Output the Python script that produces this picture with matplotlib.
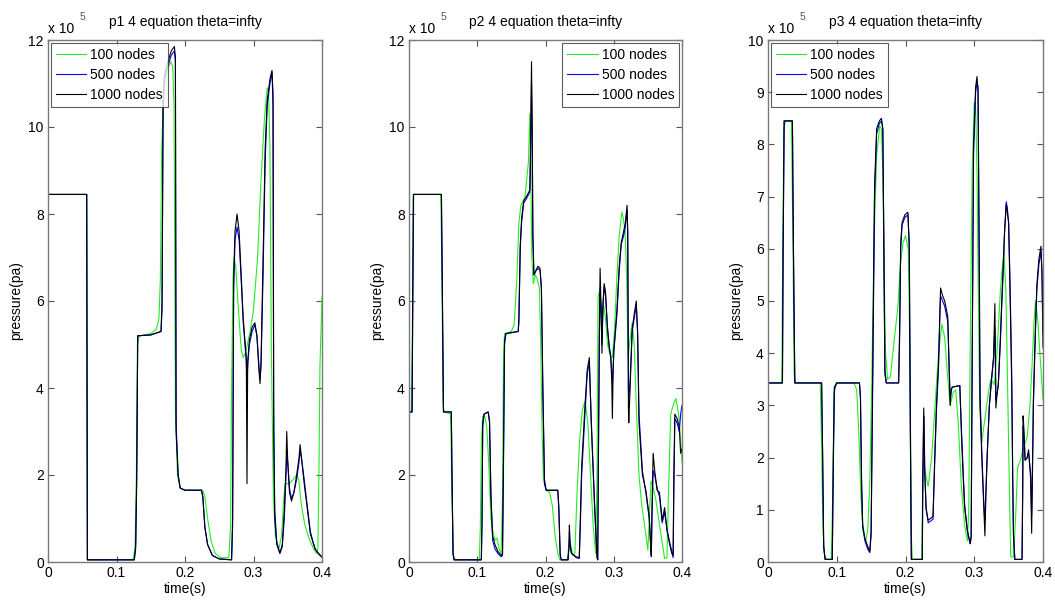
import matplotlib
matplotlib.use("Agg")
import matplotlib.pyplot as plt

plt.rcParams['font.family'] = ['Liberation Sans', 'DejaVu Sans']

# ---------------- data (pressure in units of 1e5 Pa) ----------------
titles = ["p1 4 equation theta=infty", "p2 4 equation theta=infty", "p3 4 equation theta=infty"]
series_labels = ["100 nodes", "500 nodes", "1000 nodes"]
ylims = [12, 12, 10]
yticks_list = [[0, 2, 4, 6, 8, 10, 12], [0, 2, 4, 6, 8, 10, 12], list(range(0, 11))]
xticks = [0, 0.1, 0.2, 0.3, 0.4]
xticklabels = ["0", "0.1", "0.2", "0.3", "0.4"]

# ---- panel 1 ----
p1_t = [0, 0.0565, 0.0575, 0.126, 0.128, 0.1295, 0.131, 0.150, 0.165, 0.1665, 0.168, 0.170, 0.175, 0.180,
        0.1845, 0.186, 0.187, 0.190, 0.193, 0.200, 0.224, 0.226, 0.229, 0.233, 0.240, 0.250, 0.268, 0.2695,
        0.271, 0.273, 0.276, 0.279, 0.282, 0.285, 0.288, 0.2895, 0.2905, 0.2915, 0.294, 0.298, 0.302, 0.305,
        0.308, 0.3095, 0.311, 0.314, 0.317, 0.320, 0.324, 0.327, 0.3285, 0.3295, 0.331, 0.334, 0.3385, 0.342,
        0.345, 0.3475, 0.3485, 0.350, 0.3525, 0.3555, 0.359, 0.363, 0.3665, 0.368, 0.370, 0.374, 0.378, 0.383,
        0.387, 0.390, 0.395, 0.400]
p1_black = [8.45, 8.45, 0.05, 0.05, 0.4, 2.0, 5.2, 5.22, 5.3, 6.0, 10.6, 11.2, 11.5, 11.75,
            11.85, 11.6, 3.0, 2.0, 1.7, 1.65, 1.65, 1.5, 0.8, 0.4, 0.15, 0.07, 0.05, 1.0,
            6.5, 7.6, 8.0, 7.6, 6.6, 5.6, 5.0, 4.7, 1.8, 4.6, 5.1, 5.4, 5.5, 5.2,
            4.4, 4.1, 4.6, 7.0, 9.5, 10.6, 11.1, 11.3, 10.5, 3.0, 1.0, 0.4, 0.2, 0.4,
            1.2, 2.2, 3.0, 2.3, 1.6, 1.4, 1.6, 2.0, 2.4, 2.7, 2.4, 1.8, 1.3, 0.65,
            0.45, 0.3, 0.18, 0.11]
p1_blue = [8.45, 8.45, 0.05, 0.05, 0.3, 1.8, 5.2, 5.22, 5.3, 5.8, 10.4, 11.1, 11.4, 11.65,
           11.75, 11.5, 3.2, 2.0, 1.7, 1.65, 1.65, 1.5, 0.8, 0.4, 0.15, 0.07, 0.05, 0.8,
           6.2, 7.4, 7.7, 7.4, 6.5, 5.5, 4.9, 4.6, 4.1, 4.5, 5.0, 5.3, 5.45, 5.2,
           4.5, 4.2, 4.5, 6.6, 9.2, 10.5, 11.0, 11.25, 10.8, 3.5, 1.2, 0.45, 0.2, 0.35,
           1.0, 2.0, 2.5, 2.3, 1.7, 1.45, 1.6, 1.9, 2.3, 2.55, 2.4, 1.9, 1.35, 0.7,
           0.45, 0.3, 0.2, 0.12]
p1_green_t = [0, 0.0565, 0.0575, 0.124, 0.127, 0.129, 0.1305, 0.133, 0.150, 0.158, 0.162, 0.164, 0.166,
              0.169, 0.174, 0.179, 0.182, 0.184, 0.186, 0.189, 0.193, 0.200, 0.226, 0.229, 0.233, 0.238,
              0.244, 0.252, 0.264, 0.2665, 0.268, 0.270, 0.2715, 0.274, 0.278, 0.282, 0.285, 0.288, 0.291,
              0.295, 0.300, 0.306, 0.311, 0.316, 0.320, 0.322, 0.324, 0.326, 0.329, 0.332, 0.337, 0.341,
              0.344, 0.346, 0.352, 0.358, 0.363, 0.366, 0.370, 0.375, 0.382, 0.388, 0.392, 0.394, 0.3955,
              0.397, 0.400]
p1_green = [8.45, 8.45, 0.05, 0.05, 0.3, 2.0, 5.0, 5.2, 5.25, 5.35, 5.6, 6.5, 9.5,
            10.8, 11.3, 11.5, 11.4, 10.5, 3.5, 2.0, 1.7, 1.65, 1.65, 1.5, 1.0, 0.5,
            0.2, 0.1, 0.1, 0.8, 4.0, 6.5, 7.0, 6.8, 5.8, 4.9, 4.7, 4.8, 5.0,
            5.3, 5.8, 7.0, 8.8, 10.2, 10.9, 10.8, 9.5, 5.0, 1.5, 0.6, 0.3, 0.6,
            1.4, 1.8, 1.8, 1.9, 2.0, 1.9, 1.3, 0.85, 0.5, 0.3, 0.2, 0.3, 2.0,
            4.5, 6.1]

# ---- panel 2 ----
p2_t = [0, 0.0045, 0.0055, 0.0065, 0.0475, 0.049, 0.0505, 0.062, 0.063, 0.0645, 0.066, 0.106, 0.107, 0.108,
        0.110, 0.116, 0.118, 0.120, 0.1225, 0.126, 0.130, 0.135, 0.137, 0.1385, 0.140, 0.142, 0.160, 0.161,
        0.163, 0.165, 0.168, 0.172, 0.177, 0.178, 0.1795, 0.1805, 0.1815, 0.183, 0.186, 0.189, 0.192, 0.194,
        0.196, 0.1985, 0.201, 0.218, 0.2195, 0.2215, 0.223, 0.233, 0.2345, 0.235, 0.236, 0.238, 0.245, 0.2495,
        0.251, 0.253, 0.2575, 0.261, 0.2642, 0.267, 0.272, 0.2755, 0.2765, 0.2775, 0.279, 0.280, 0.2815,
        0.2827, 0.284, 0.286, 0.288, 0.2907, 0.293, 0.2956, 0.297, 0.298, 0.299, 0.300, 0.3047, 0.308,
        0.311, 0.3145, 0.317, 0.3195, 0.3205, 0.3215, 0.322, 0.324, 0.327, 0.330, 0.333, 0.335, 0.337,
        0.342, 0.347, 0.352, 0.354, 0.355, 0.356, 0.3577, 0.360, 0.3635, 0.367, 0.371, 0.3745, 0.378,
        0.382, 0.385, 0.387, 0.388, 0.3895, 0.3928, 0.396, 0.398, 0.400]
p2_black = [3.45, 3.45, 6.0, 8.45, 8.45, 6.0, 3.45, 3.45, 2.0, 0.2, 0.05, 0.05, 1.0, 3.2,
            3.4, 3.45, 3.2, 1.5, 0.6, 0.4, 0.25, 0.15, 0.2, 2.5, 5.1, 5.25, 5.3, 5.6,
            7.3, 7.9, 8.3, 8.4, 8.55, 9.5, 11.5, 10.0, 7.5, 6.6, 6.7, 6.8, 6.75, 6.3,
            4.0, 1.8, 1.65, 1.65, 1.2, 0.15, 0.05, 0.05, 0.4, 0.85, 0.4, 0.2, 0.12, 0.1,
            1.0, 2.2, 3.5, 4.4, 4.7, 3.2, 1.25, 0.1, 0.05, 2.5, 5.5, 6.75, 5.8,
            4.8, 5.8, 6.4, 6.2, 5.4, 5.0, 4.7, 4.2, 3.3, 4.3, 4.85, 5.8, 6.8,
            7.35, 7.6, 7.8, 8.2, 7.5, 3.5, 3.2, 4.0, 5.35, 5.7, 6.0, 5.2, 3.2,
            2.0, 1.65, 1.05, 0.4, 0.15, 1.2, 2.5, 2.1, 1.65, 1.6, 0.95, 1.25, 0.72,
            0.4, 0.2, 0.15, 2.0, 3.4, 3.3, 3.1, 2.5, 2.6]
p2_blue = [3.45, 3.45, 6.0, 8.45, 8.45, 6.0, 3.45, 3.45, 2.0, 0.2, 0.05, 0.05, 0.9, 3.1,
           3.4, 3.45, 3.25, 1.6, 0.5, 0.3, 0.2, 0.12, 0.15, 2.3, 5.0, 5.25, 5.3, 5.5,
           7.2, 7.8, 8.25, 8.35, 8.5, 9.2, 11.0, 9.8, 7.5, 6.6, 6.7, 6.75, 6.7, 6.3,
           4.2, 1.9, 1.65, 1.65, 1.3, 0.2, 0.05, 0.05, 0.35, 0.7, 0.4, 0.2, 0.1, 0.08,
           0.8, 2.0, 3.3, 4.3, 4.6, 3.3, 1.3, 0.15, 0.05, 2.2, 5.2, 6.3, 5.7,
           5.0, 5.9, 6.35, 6.1, 5.4, 5.0, 4.7, 4.4, 4.1, 4.4, 4.8, 5.7, 6.7,
           7.3, 7.5, 7.7, 8.1, 7.6, 4.0, 3.7, 4.2, 5.3, 5.6, 5.9, 5.3, 3.4,
           2.1, 1.6, 1.0, 0.4, 0.12, 1.0, 2.1, 2.0, 1.7, 1.5, 0.9, 1.15, 0.75,
           0.45, 0.25, 0.1, 1.5, 3.3, 3.2, 3.0, 3.4, 3.6]
p2_green_t = [0, 0.004, 0.0055, 0.007, 0.0465, 0.048, 0.050, 0.052, 0.061, 0.063, 0.065, 0.068, 0.103,
              0.1045, 0.106, 0.108, 0.111, 0.114, 0.117, 0.120, 0.123, 0.126, 0.129, 0.132, 0.135, 0.137,
              0.1385, 0.140, 0.150, 0.154, 0.158, 0.161, 0.164, 0.170, 0.175, 0.177, 0.1785, 0.180, 0.182,
              0.185, 0.188, 0.191, 0.193, 0.195, 0.197, 0.201, 0.206, 0.210, 0.214, 0.218, 0.221, 0.232,
              0.235, 0.237, 0.240, 0.243, 0.246, 0.250, 0.254, 0.258, 0.262, 0.266, 0.270, 0.2735, 0.2755,
              0.277, 0.279, 0.281, 0.283, 0.285, 0.288, 0.291, 0.294, 0.298, 0.301, 0.3047, 0.308, 0.3118,
              0.314, 0.3166, 0.319, 0.321, 0.323, 0.327, 0.330, 0.333, 0.337, 0.341, 0.345, 0.350, 0.3525,
              0.3547, 0.358, 0.362, 0.369, 0.3745, 0.378, 0.380, 0.3835, 0.387, 0.391, 0.395, 0.398, 0.400]
p2_green = [3.45, 3.45, 6.5, 8.45, 8.45, 7.0, 3.6, 3.45, 3.4, 1.5, 0.15, 0.05, 0.05,
            0.8, 2.7, 3.35, 3.35, 3.1, 2.2, 1.0, 0.7, 0.5, 0.55, 0.3, 0.2, 1.5,
            4.8, 5.25, 5.3, 5.45, 6.5, 7.8, 8.2, 8.4, 9.2, 10.3, 9.0, 7.0, 6.4,
            6.6, 6.5, 6.3, 5.0, 3.0, 1.9, 1.65, 1.6, 1.3, 0.6, 0.2, 0.05, 0.05,
            0.5, 0.4, 0.15, 0.2, 1.5, 2.8, 3.5, 3.7, 3.2, 2.0, 0.8, 0.2, 2.0,
            6.1, 6.2, 6.0, 5.4, 5.9, 5.6, 5.0, 4.8, 4.7, 5.3, 6.6, 7.5, 8.05,
            7.9, 7.6, 6.5, 4.7, 5.0, 5.5, 5.0, 3.6, 2.0, 1.3, 0.87, 0.27, 1.2,
            1.86, 1.7, 1.4, 0.65, 0.08, 0.1, 1.5, 3.4, 3.6, 3.76, 3.4, 2.8, 2.3]

# ---- panel 3 ----
p3_t = [0, 0.021, 0.022, 0.0235, 0.0355, 0.037, 0.039, 0.078, 0.0795, 0.081, 0.083, 0.0935, 0.095, 0.0965,
        0.100, 0.133, 0.1345, 0.136, 0.1377, 0.141, 0.145, 0.148, 0.150, 0.1525, 0.155, 0.158, 0.162, 0.165,
        0.167, 0.1685, 0.170, 0.172, 0.190, 0.1915, 0.193, 0.195, 0.199, 0.2035, 0.2055, 0.207, 0.2085,
        0.2245, 0.225, 0.2265, 0.2275, 0.228, 0.230, 0.233, 0.236, 0.240, 0.2425, 0.245, 0.248, 0.250, 0.251,
        0.254, 0.257, 0.2615, 0.263, 0.265, 0.2665, 0.268, 0.279, 0.2815, 0.284, 0.286, 0.290, 0.294,
        0.2955, 0.297, 0.299, 0.302, 0.304, 0.3055, 0.307, 0.3085, 0.311, 0.314, 0.3155, 0.317, 0.319,
        0.322, 0.325, 0.328, 0.330, 0.3315, 0.333, 0.335, 0.338, 0.340, 0.3425, 0.344, 0.3465, 0.348,
        0.350, 0.352, 0.3545, 0.356, 0.357, 0.359, 0.3695, 0.3705, 0.371, 0.372, 0.374, 0.377, 0.379,
        0.382, 0.3835, 0.385, 0.386, 0.389, 0.391, 0.394, 0.397, 0.3985, 0.400]
p3_black = [3.43, 3.43, 6.0, 8.45, 8.45, 6.0, 3.43, 3.43, 2.0, 0.3, 0.05, 0.05, 2.0, 3.35,
            3.43, 3.43, 3.1, 1.5, 0.7, 0.45, 0.3, 0.2, 0.6, 4.0, 7.2, 8.3, 8.45, 8.5,
            8.3, 6.0, 3.6, 3.43, 3.43, 4.5, 6.1, 6.5, 6.65, 6.7, 6.0, 2.5, 0.05,
            0.05, 1.5, 2.95, 2.2, 1.7, 1.0, 0.8, 0.83, 0.87, 2.0, 3.0, 3.8, 4.8, 5.25,
            5.1, 5.0, 4.7, 3.9, 3.0, 3.3, 3.35, 3.38, 2.4, 1.6, 1.05, 0.6, 0.35,
            0.5, 4.0, 8.0, 9.1, 9.3, 9.0, 6.0, 3.0, 2.0, 1.0, 0.5, 1.3, 2.1,
            3.0, 3.5, 3.9, 4.95, 2.95, 3.2, 3.4, 4.3, 5.0, 5.8, 6.3, 6.85, 6.7,
            6.5, 5.2, 3.4, 1.5, 0.5, 0.05, 0.05, 1.5, 2.8, 2.6, 1.95, 2.0, 2.15,
            1.6, 0.55, 2.0, 3.1, 4.5, 5.3, 5.8, 6.05, 5.5, 4.1]
p3_blue = [3.43, 3.43, 6.0, 8.45, 8.45, 6.0, 3.43, 3.43, 2.0, 0.3, 0.05, 0.05, 1.8, 3.3,
           3.43, 3.43, 3.2, 1.7, 0.7, 0.4, 0.25, 0.18, 0.5, 3.6, 7.0, 8.2, 8.4, 8.45,
           8.3, 6.2, 3.7, 3.43, 3.43, 4.3, 6.0, 6.45, 6.6, 6.65, 6.1, 2.8, 0.05,
           0.05, 1.3, 2.8, 2.2, 1.75, 1.05, 0.75, 0.78, 0.82, 1.9, 2.9, 3.7, 4.7, 5.1,
           5.0, 4.9, 4.6, 4.0, 3.1, 3.3, 3.35, 3.38, 2.5, 1.7, 1.1, 0.6, 0.35,
           0.45, 3.7, 7.8, 9.0, 9.2, 9.1, 6.5, 3.2, 2.1, 1.1, 0.8, 1.4, 2.1,
           3.0, 3.45, 3.9, 4.5, 3.1, 3.2, 3.4, 4.2, 4.9, 5.7, 6.3, 6.9, 6.8,
           6.5, 5.4, 3.6, 1.6, 0.6, 0.05, 0.05, 1.3, 2.6, 2.5, 1.95, 2.0, 2.1,
           1.7, 0.9, 2.1, 3.0, 4.4, 5.2, 5.7, 5.95, 5.6, 4.4]
p3_green_t = [0, 0.020, 0.0215, 0.023, 0.0255, 0.034, 0.036, 0.038, 0.040, 0.076, 0.078, 0.080, 0.082,
              0.085, 0.092, 0.094, 0.096, 0.099, 0.125, 0.129, 0.132, 0.135, 0.138, 0.142, 0.145, 0.148,
              0.151, 0.154, 0.158, 0.1625, 0.165, 0.167, 0.169, 0.171, 0.174, 0.178, 0.184, 0.189, 0.192,
              0.196, 0.200, 0.204, 0.2065, 0.2085, 0.210, 0.2235, 0.2245, 0.226, 0.229, 0.233, 0.238,
              0.243, 0.248, 0.253, 0.257, 0.261, 0.265, 0.2695, 0.273, 0.277, 0.281, 0.286, 0.290, 0.292,
              0.294, 0.297, 0.300, 0.302, 0.304, 0.306, 0.308, 0.311, 0.315, 0.320, 0.324, 0.329, 0.333,
              0.338, 0.343, 0.346, 0.349, 0.351, 0.353, 0.357, 0.360, 0.363, 0.367, 0.372, 0.377, 0.381,
              0.384, 0.387, 0.389, 0.392, 0.396, 0.400]
p3_green = [3.43, 3.43, 6.0, 8.3, 8.45, 8.45, 6.5, 3.6, 3.43, 3.43, 2.2, 0.6, 0.15,
            0.05, 0.05, 1.2, 3.2, 3.43, 3.43, 3.3, 2.5, 1.3, 0.6, 0.4, 0.6, 1.5,
            3.5, 6.0, 7.8, 8.35, 8.3, 7.5, 5.5, 4.0, 3.5, 3.55, 4.3, 4.9, 5.6,
            6.1, 6.25, 6.0, 4.0, 0.5, 0.05, 0.05, 1.0, 1.95, 1.7, 1.45, 2.0,
            3.0, 4.0, 4.55, 4.3, 3.6, 3.0, 3.25, 3.3, 2.6, 1.5, 0.7, 0.4, 1.0,
            4.0, 7.5, 8.8, 8.7, 7.5, 5.0, 3.0, 2.3, 2.7, 3.2, 3.5, 3.4, 4.0,
            5.2, 5.95, 5.2, 3.0, 1.5, 0.1, 0.1, 0.8, 1.8, 1.95, 2.2, 2.4, 3.0,
            3.74, 4.6, 5.0, 4.7, 3.9, 3.1]

panels = [
    (p1_green_t, p1_green, p1_t, p1_blue, p1_t, p1_black),
    (p2_green_t, p2_green, p2_t, p2_blue, p2_t, p2_black),
    (p3_green_t, p3_green, p3_t, p3_blue, p3_t, p3_black),
]
legend_locs = ["upper left", "upper right", "upper left"]

# ---------------- figure ----------------
W, H = 1055, 605
fig = plt.figure(figsize=(W / 100, H / 100), dpi=100)
axes_px = [(48, 274), (409, 273), (768, 275)]
top_px, bot_px = 40, 562
colors = ["#22ee22", "#0000ff", "#000000"]
edge_col = "#7a7a7a"

for i, (gt, gv, bt, bv, kt, kv) in enumerate(panels):
    left, width = axes_px[i]
    ax = fig.add_axes([left / W, (H - bot_px) / H, width / W, (bot_px - top_px) / H])
    scale = 1e5
    ax.plot(gt, [v * scale for v in gv], color=colors[0], lw=0.8, label=series_labels[0])
    ax.plot(bt, [v * scale for v in bv], color=colors[1], lw=0.8, label=series_labels[1])
    ax.plot(kt, [v * scale for v in kv], color=colors[2], lw=0.8, label=series_labels[2])
    ax.set_xlim(0, 0.4)
    ax.set_ylim(0, ylims[i] * scale)
    ax.set_xticks(xticks)
    ax.set_xticklabels(xticklabels)
    ax.set_yticks([v * scale for v in yticks_list[i]])
    ax.set_yticklabels([str(v) for v in yticks_list[i]])
    ax.tick_params(direction="in", length=4, width=0.8, color="#555555", top=True, right=True,
                   labelsize=10, pad=3)
    for s in ax.spines.values():
        s.set_color(edge_col)
        s.set_linewidth(1.0)
    ax.set_title(titles[i], fontsize=10, pad=10)
    ax.set_xlabel("time(s)", fontsize=10, labelpad=1)
    ax.set_ylabel("pressure(pa)", fontsize=10, labelpad=4)
    # exponent annotation in MATLAB style
    ax.text(0.0, 1.008, "x 10", transform=ax.transAxes, fontsize=10, ha="left", va="bottom")
    ax.text(0.115, 1.035, "5", transform=ax.transAxes, fontsize=7.5, ha="left", va="bottom",
            color="#555555")
    leg = ax.legend(loc=legend_locs[i], fontsize=10, frameon=True, fancybox=False,
                    handlelength=2.2, handletextpad=0.3, borderpad=0.35, labelspacing=0.45,
                    borderaxespad=0.2)
    leg.get_frame().set_edgecolor("#333333")
    leg.get_frame().set_linewidth(0.8)

fig.savefig("out.png", dpi=100)
